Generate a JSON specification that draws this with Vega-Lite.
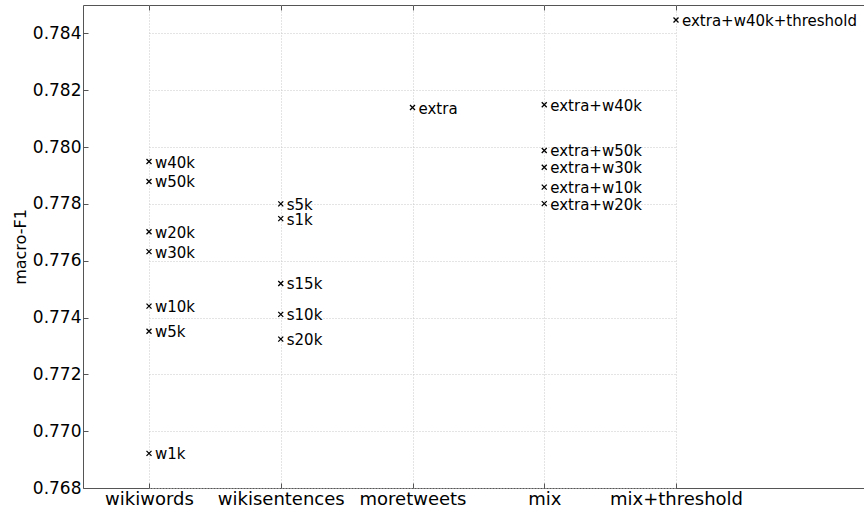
{
  "$schema": "https://vega.github.io/schema/vega-lite/v6.json",
  "width": 781,
  "height": 483,
  "autosize": "none",
  "padding": {"left": 83, "top": 5, "right": 0, "bottom": 23},
  "background": "white",
  "config": {
    "font": "DejaVu Sans",
    "view": {"stroke": "#555555", "strokeWidth": 1}
  },
  "data": {
    "values": [
      {"setting": "wikiwords", "f1": 0.77949, "label": "w40k"},
      {"setting": "wikiwords", "f1": 0.77879, "label": "w50k"},
      {"setting": "wikiwords", "f1": 0.77702, "label": "w20k"},
      {"setting": "wikiwords", "f1": 0.77632, "label": "w30k"},
      {"setting": "wikiwords", "f1": 0.77440, "label": "w10k"},
      {"setting": "wikiwords", "f1": 0.77352, "label": "w5k"},
      {"setting": "wikiwords", "f1": 0.76922, "label": "w1k"},
      {"setting": "wikisentences", "f1": 0.77800, "label": "s5k"},
      {"setting": "wikisentences", "f1": 0.77748, "label": "s1k"},
      {"setting": "wikisentences", "f1": 0.77520, "label": "s15k"},
      {"setting": "wikisentences", "f1": 0.77411, "label": "s10k"},
      {"setting": "wikisentences", "f1": 0.77324, "label": "s20k"},
      {"setting": "moretweets", "f1": 0.78139, "label": "extra"},
      {"setting": "mix", "f1": 0.78149, "label": "extra+w40k"},
      {"setting": "mix", "f1": 0.77988, "label": "extra+w50k"},
      {"setting": "mix", "f1": 0.77929, "label": "extra+w30k"},
      {"setting": "mix", "f1": 0.77859, "label": "extra+w10k"},
      {"setting": "mix", "f1": 0.77801, "label": "extra+w20k"},
      {"setting": "mix+threshold", "f1": 0.78447, "label": "extra+w40k+threshold"}
    ]
  },
  "encoding": {
    "y": {
      "field": "f1",
      "type": "quantitative",
      "scale": {"domain": [0.768, 0.785], "nice": false, "zero": false},
      "axis": {
        "title": "macro-F1",
        "titleFontSize": 16,
        "titleFontWeight": "normal",
        "titleColor": "#000000",
        "titlePadding": 4,
        "values": [0.768, 0.770, 0.772, 0.774, 0.776, 0.778, 0.780, 0.782, 0.784],
        "format": ".3f",
        "labelFontSize": 17,
        "labelColor": "#000000",
        "labelPadding": 7,
        "domain": false,
        "ticks": true,
        "tickSize": -5,
        "tickColor": "#555555",
        "grid": true,
        "gridColor": "#c8c8c8",
        "gridDash": [1, 2],
        "gridWidth": 1
      }
    }
  },
  "layer": [
    {
      "mark": {"type": "point", "shape": "M-1,-1L1,1M-1,1L1,-1", "filled": false, "stroke": "#000000", "strokeWidth": 1.3, "size": 25, "opacity": 1},
      "encoding": {
        "x": {
          "field": "setting",
          "type": "nominal",
          "sort": null,
          "scale": {"type": "point", "domain": ["wikiwords", "wikisentences", "moretweets", "mix", "mix+threshold"], "range": [66, 593], "padding": 0},
          "axis": {
            "orient": "bottom",
            "title": null,
            "labelAngle": 0,
            "labelFontSize": 18,
            "labelColor": "#000000",
            "labelPadding": 7,
            "domain": false,
            "ticks": true,
            "tickSize": -5,
            "tickColor": "#555555",
            "grid": true,
            "gridColor": "#c8c8c8",
            "gridDash": [1, 2],
            "gridWidth": 1
          }
        }
      }
    },
    {
      "mark": {"type": "text", "align": "left", "baseline": "middle", "dx": 6, "dy": 1, "fontSize": 15, "color": "#000000"},
      "encoding": {
        "x": {
          "field": "setting",
          "type": "nominal",
          "sort": null,
          "scale": {"type": "point", "domain": ["wikiwords", "wikisentences", "moretweets", "mix", "mix+threshold"], "range": [66, 593], "padding": 0},
          "axis": {
            "orient": "top",
            "title": null,
            "labels": false,
            "domain": false,
            "ticks": true,
            "tickSize": -5,
            "tickColor": "#555555",
            "grid": false
          }
        },
        "text": {"field": "label"}
      }
    }
  ],
  "resolve": {"axis": {"x": "independent"}}
}
